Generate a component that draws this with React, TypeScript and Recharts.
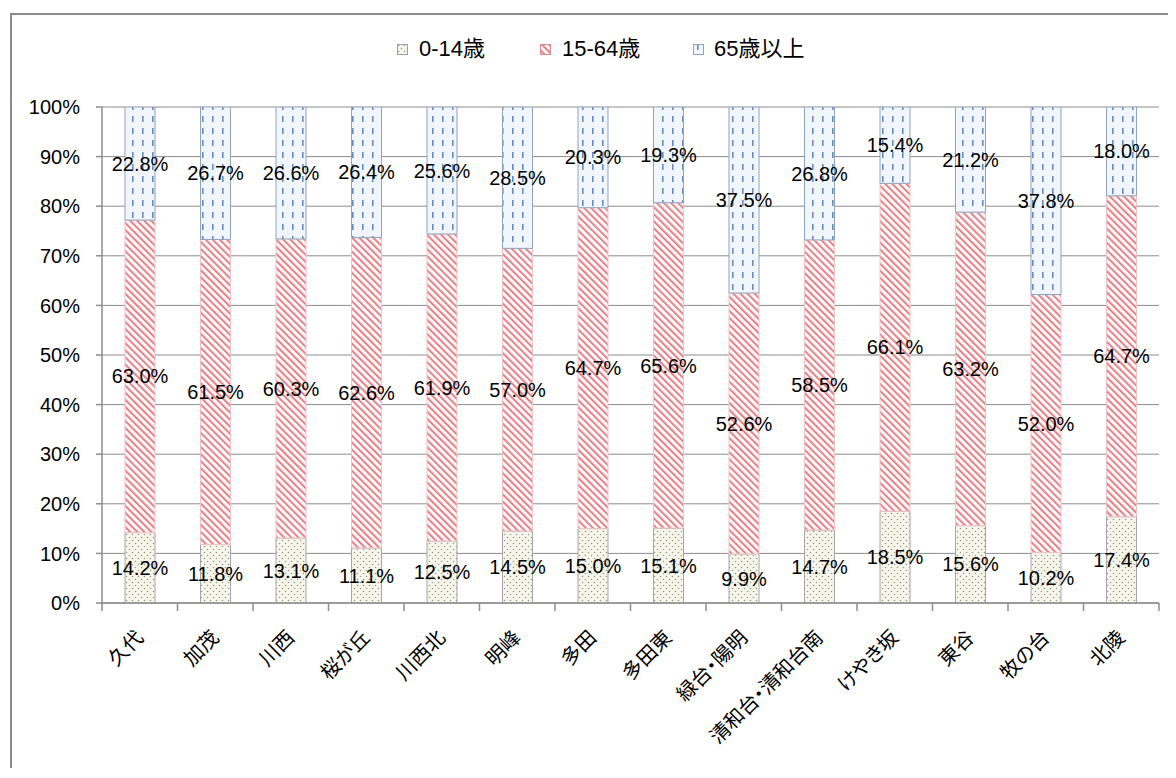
import React from 'react';
import { BarChart, Bar, XAxis, YAxis, CartesianGrid, LabelList, Legend } from 'recharts';

const categories = ['久代', '加茂', '川西', '桜が丘', '川西北', '明峰', '多田', '多田東', '緑台・陽明', '清和台・清和台南', 'けやき坂', '東谷', '牧の台', '北陵'];
const age0to14 = [14.2, 11.8, 13.1, 11.1, 12.5, 14.5, 15.0, 15.1, 9.9, 14.7, 18.5, 15.6, 10.2, 17.4];
const age15to64 = [63.0, 61.5, 60.3, 62.6, 61.9, 57.0, 64.7, 65.6, 52.6, 58.5, 66.1, 63.2, 52.0, 64.7];
const age65plus = [22.8, 26.7, 26.6, 26.4, 25.6, 28.5, 20.3, 19.3, 37.5, 26.8, 15.4, 21.2, 37.8, 18.0];
const yTicks = [0, 10, 20, 30, 40, 50, 60, 70, 80, 90, 100];
const seriesNames = ['0-14歳', '15-64歳', '65歳以上'];

const data = categories.map((name, i) => ({
  name,
  a: age0to14[i],
  b: age15to64[i],
  c: age65plus[i],
}));

const FONT = '"Liberation Sans", Arial, "Noto Sans CJK JP", sans-serif';
const AXIS = '#8c8c8c';
const PLOT_LEFT = 94;
const PLOT_RIGHT = 1151;

const fmt = (v: any) => `${Number(v).toFixed(1)}%`;

const XTick = (props: any) => {
  const { x, y, payload, index } = props;
  const half = (PLOT_RIGHT - PLOT_LEFT) / categories.length / 2;
  return (
    <g>
      <line x1={x - half} x2={x - half} y1={y} y2={y + 8} stroke={AXIS} strokeWidth={1.5} />
      {index === categories.length - 1 && (
        <line x1={x + half} x2={x + half} y1={y} y2={y + 8} stroke={AXIS} strokeWidth={1.5} />
      )}
      <g transform={`translate(${x},${y + 31})`}>
        <text
          transform="rotate(-45)"
          textAnchor="end"
          dominantBaseline="central"
          fontSize={20}
          fontFamily={FONT}
          fill="#000"
          style={{ fontFeatureSettings: '"palt"' }}
        >
          {payload.value}
        </text>
      </g>
    </g>
  );
};

const swatches = [
  { fill: 'url(#patDots)', stroke: '#a0a0a0' },
  { fill: 'url(#patStripes)', stroke: '#d98a8f' },
  { fill: 'url(#patDashes)', stroke: '#8fa3bd' },
];
const legendPos = [
  { icon: 389, text: 411 },
  { icon: 532, text: 554 },
  { icon: 685, text: 706 },
];

const LegendContent = () => (
  <div style={{ position: 'relative', width: 1160, height: 40, fontFamily: FONT, fontSize: 22, color: '#000' }}>
    {seriesNames.map((n, i) => (
      <React.Fragment key={n}>
        <svg width={12} height={12} style={{ position: 'absolute', left: legendPos[i].icon, top: 13 }}>
          <rect x={0.5} y={0.5} width={10} height={10} fill={swatches[i].fill} stroke={swatches[i].stroke} />
        </svg>
        <span style={{ position: 'absolute', left: legendPos[i].text, top: 5, lineHeight: '26px', whiteSpace: 'nowrap' }}>{n}</span>
      </React.Fragment>
    ))}
  </div>
);

export default function App() {
  return (
    <div style={{ position: 'relative', width: 1160, height: 760, overflow: 'hidden', background: '#fff' }}>
      <svg width={0} height={0} style={{ position: 'absolute' }}>
        <defs>
          <pattern id="patDots" patternUnits="userSpaceOnUse" width={6} height={6}>
            <rect width={6} height={6} fill="#f6f6ec" />
            <circle cx={1.5} cy={1.5} r={0.8} fill="#9c9c80" />
            <circle cx={4.5} cy={4.5} r={0.8} fill="#9c9c80" />
          </pattern>
          <pattern id="patStripes" patternUnits="userSpaceOnUse" width={5} height={5} patternTransform="rotate(-45)">
            <rect width={5} height={5} fill="#fdf6f6" />
            <rect x={0} y={0} width={1.8} height={5} fill="#e07a81" />
          </pattern>
          <pattern id="patDashes" patternUnits="userSpaceOnUse" width={10} height={12}>
            <rect width={10} height={12} fill="#f1f6fc" />
            <rect x={4} y={0} width={1.6} height={6} fill="#6a8cbc" />
          </pattern>
        </defs>
      </svg>
      <div
        style={{
          position: 'absolute',
          left: 2,
          top: 5,
          width: 2000,
          height: 2000,
          borderTop: '2px solid #8a8a8a',
          borderLeft: '2px solid #8a8a8a',
          boxSizing: 'border-box',
        }}
      />
      <div style={{ position: 'absolute', left: 0, top: 0 }}>
        <BarChart
          width={1160}
          height={760}
          data={data}
          margin={{ top: 99, right: 9, left: 0, bottom: 0 }}
          barSize={30}
        >
          <CartesianGrid vertical={false} stroke={AXIS} strokeWidth={1} />
          <XAxis
            dataKey="name"
            interval={0}
            tick={<XTick />}
            tickLine={false}
            tickSize={0}
            tickMargin={0}
            height={165}
            axisLine={{ stroke: AXIS, strokeWidth: 1.5 }}
          />
          <YAxis
            width={94}
            domain={[0, 100]}
            ticks={yTicks}
            allowDataOverflow
            tickFormatter={(v: any) => `${v}%`}
            tick={{ fontSize: 20, fontFamily: FONT, fill: '#000' }}
            tickSize={6}
            tickMargin={16}
            axisLine={{ stroke: AXIS, strokeWidth: 1.5 }}
            tickLine={{ stroke: AXIS, strokeWidth: 1.5 }}
          />
          <Legend
            verticalAlign="middle"
            align="center"
            layout="horizontal"
            content={<LegendContent />}
            wrapperStyle={{ top: 23, left: 0, width: 1160, height: 40 }}
          />
          <Bar dataKey="a" name={seriesNames[0]} stackId="s" fill="url(#patDots)" stroke="#a6a6a6" strokeWidth={1} isAnimationActive={false}>
            <LabelList dataKey="a" position="center" formatter={fmt} fill="#000" fontSize={20} fontFamily={FONT} />
          </Bar>
          <Bar dataKey="b" name={seriesNames[1]} stackId="s" fill="url(#patStripes)" stroke="#efc3c6" strokeWidth={1} isAnimationActive={false}>
            <LabelList dataKey="b" position="center" formatter={fmt} fill="#000" fontSize={20} fontFamily={FONT} />
          </Bar>
          <Bar dataKey="c" name={seriesNames[2]} stackId="s" fill="url(#patDashes)" stroke="#8fa3bd" strokeWidth={1} isAnimationActive={false}>
            <LabelList dataKey="c" position="center" formatter={fmt} fill="#000" fontSize={20} fontFamily={FONT} />
          </Bar>
        </BarChart>
      </div>
    </div>
  );
}
